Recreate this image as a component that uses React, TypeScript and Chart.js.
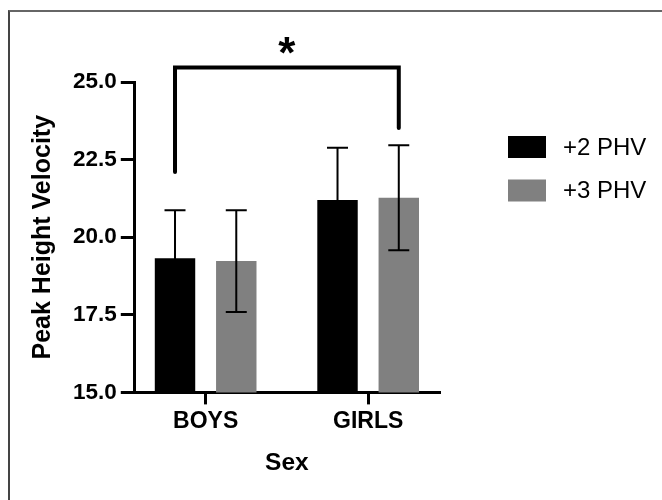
import React, { useEffect, useRef } from "react";
import { Chart, registerables } from "chart.js";

Chart.register(...registerables);

// ---- data ----
const CATEGORIES = ["BOYS", "GIRLS"];
const SERIES_LABELS = ["+2 PHV", "+3 PHV"];
const SERIES_COLORS = ["#000000", "#808080"];
const PHV2_MEAN = [19.32, 21.2];
const PHV2_SD = [1.55, 1.68];
const PHV3_MEAN = [19.23, 21.27];
const PHV3_SD = [1.64, 1.69];
const Y_MIN = 15;
const Y_MAX = 25;
const Y_STEP = 2.5;
// significance bracket (values on the y scale)
const BRACKET_TOP = 25.47;
const BRACKET_LEFT_END = 22.1;
const BRACKET_RIGHT_END = 23.52;
const STAR_LEVEL = 26.19;
const STAR_TEXT = "*";

const FONT = '"Liberation Sans", Arial, Helvetica, sans-serif';
const MEANS = [PHV2_MEAN, PHV3_MEAN];
const SDS = [PHV2_SD, PHV3_SD];

const errorBarsPlugin = {
  id: "errorBars",
  afterDatasetsDraw(chart: any) {
    const ctx = chart.ctx;
    const y = chart.scales.y;
    ctx.save();
    ctx.strokeStyle = "#000";
    ctx.lineWidth = 2;
    chart.data.datasets.forEach((ds: any, i: number) => {
      const meta = chart.getDatasetMeta(i);
      meta.data.forEach((el: any, j: number) => {
        const m = MEANS[i][j];
        const sd = SDS[i][j];
        const yt = y.getPixelForValue(m + sd);
        const yb = y.getPixelForValue(m - sd);
        const x = el.x;
        const cap = 10.5;
        ctx.beginPath();
        ctx.moveTo(x, yb);
        ctx.lineTo(x, yt);
        ctx.moveTo(x - cap, yt);
        ctx.lineTo(x + cap, yt);
        ctx.moveTo(x - cap, yb);
        ctx.lineTo(x + cap, yb);
        ctx.stroke();
      });
    });
    ctx.restore();
  },
};

const bracketPlugin = {
  id: "bracket",
  afterDraw(chart: any) {
    const ctx = chart.ctx;
    const y = chart.scales.y;
    const left = chart.getDatasetMeta(0).data[0];
    const right = chart.getDatasetMeta(1).data[1];
    if (!left || !right) return;
    const xl = left.x;
    const xr = right.x;
    const yTop = y.getPixelForValue(BRACKET_TOP);
    ctx.save();
    ctx.strokeStyle = "#000";
    ctx.lineWidth = 4;
    ctx.lineJoin = "miter";
    ctx.lineCap = "round";
    ctx.beginPath();
    ctx.moveTo(xl, y.getPixelForValue(BRACKET_LEFT_END));
    ctx.lineTo(xl, yTop);
    ctx.lineTo(xr, yTop);
    ctx.lineTo(xr, y.getPixelForValue(BRACKET_RIGHT_END));
    ctx.stroke();
    // asterisk
    ctx.fillStyle = "#000";
    ctx.font = `bold 44px ${FONT}`;
    ctx.textAlign = "center";
    ctx.textBaseline = "alphabetic";
    const m = ctx.measureText(STAR_TEXT);
    const cy = y.getPixelForValue(STAR_LEVEL);
    const base = cy + (m.actualBoundingBoxAscent - m.actualBoundingBoxDescent) / 2;
    ctx.fillText(STAR_TEXT, (xl + xr) / 2, base);
    ctx.restore();
  },
};

const legendPlugin = {
  id: "sideLegend",
  afterDraw(chart: any) {
    const ctx = chart.ctx;
    ctx.save();
    chart.data.datasets.forEach((ds: any, i: number) => {
      const top = 136 + i * 43.5;
      ctx.fillStyle = ds.backgroundColor;
      ctx.fillRect(508, top, 38, 22);
      ctx.fillStyle = "#000";
      ctx.font = `24px ${FONT}`;
      ctx.textAlign = "left";
      ctx.textBaseline = "middle";
      ctx.fillText(ds.label, 563, top + 12);
    });
    ctx.restore();
  },
};

export default function App() {
  const ref = useRef<HTMLCanvasElement | null>(null);

  useEffect(() => {
    if (!ref.current) return;
    const chart = new Chart(ref.current, {
      type: "bar",
      data: {
        datasets: SERIES_LABELS.map((label, i) => ({
          label,
          data: MEANS[i].map((v, j) => ({ x: j, y: v })),
          backgroundColor: SERIES_COLORS[i],
          borderWidth: 0,
          categoryPercentage: 0.754,
          barPercentage: 0.66,
        })),
      },
      options: {
        animation: false,
        responsive: false,
        layout: { padding: { left: 28, right: 223, top: 82, bottom: 14.6 } },
        plugins: {
          legend: { display: false },
          tooltip: { enabled: false },
        },
        scales: {
          x: {
            type: "linear",
            min: -0.436,
            max: CATEGORIES.length - 1 + 0.436,
            offset: false,
            afterBuildTicks: (scale: any) => {
              scale.ticks = CATEGORIES.map((_, i) => ({ value: i }));
            },
            ticks: {
              callback: (v: any) => CATEGORIES[v as number] ?? "",
              color: "#000",
              font: { family: FONT, size: 23, weight: "bold" },
              padding: 3,
              maxRotation: 0,
              autoSkip: false,
            },
            grid: {
              offset: false,
              drawOnChartArea: false,
              drawTicks: true,
              tickLength: 12,
              color: "#000",
              lineWidth: 3,
            },
            border: { display: true, color: "#000", width: 3 },
            title: {
              display: true,
              text: "Sex",
              color: "#000",
              font: { family: FONT, size: 24.5, weight: "bold" },
              padding: { top: 11, bottom: 7 },
            },
          },
          y: {
            min: Y_MIN,
            max: Y_MAX,
            ticks: {
              stepSize: Y_STEP,
              callback: (v: any) => Number(v).toFixed(1),
              color: "#000",
              font: { family: FONT, size: 22.5, weight: "bold" },
              padding: 4,
            },
            grid: {
              drawOnChartArea: false,
              drawTicks: true,
              tickLength: 14,
              color: "#000",
              lineWidth: 3,
            },
            border: { display: true, color: "#000", width: 3 },
            title: {
              display: true,
              text: "Peak Height Velocity",
              color: "#000",
              font: { family: FONT, size: 25, weight: "bold" },
              padding: { top: 0, bottom: 11 },
            },
          },
        },
      },
      plugins: [errorBarsPlugin, bracketPlugin, legendPlugin],
    } as any);
    return () => chart.destroy();
  }, []);

  return (
    <div
      style={{
        position: "fixed",
        left: 0,
        top: 0,
        width: 662,
        height: 500,
        background: "#fff",
        overflow: "hidden",
      }}
    >
      <div
        style={{
          position: "absolute",
          left: 8,
          top: 10,
          width: 700,
          height: 600,
          borderLeft: "2px solid #444",
          borderTop: "2px solid #666",
        }}
      />
      <canvas
        ref={ref}
        width={662}
        height={500}
        style={{ position: "absolute", left: 0, top: 0, width: 662, height: 500 }}
      />
    </div>
  );
}
